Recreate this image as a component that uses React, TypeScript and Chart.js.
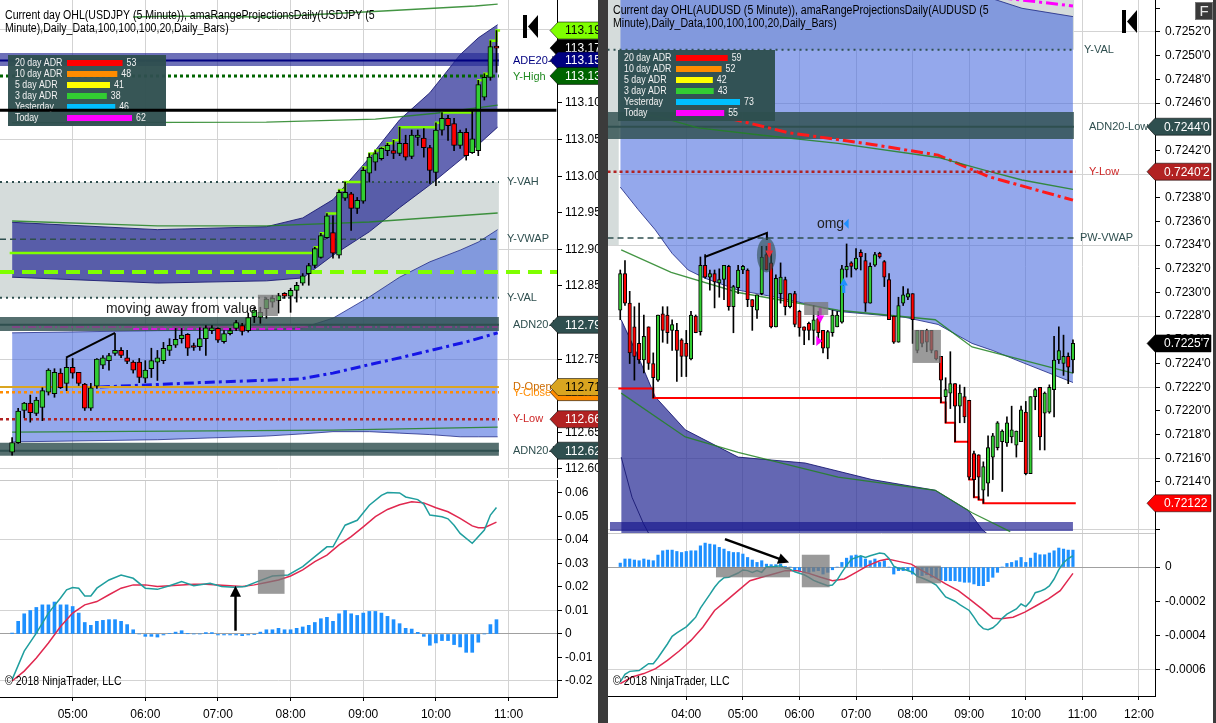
import React, { useEffect, useRef } from "react";
import { Chart, registerables } from "chart.js";

Chart.register(...registerables);

const FONT = "'Liberation Sans', Arial, Helvetica, sans-serif";

/* ======================= USDJPY (left panel) ======================= */
const jpyFirstBarMinute = 250; // 04:10, 5-minute bars
// [open, high, low, close]
const jpyCandles: number[][] = [
  [112.623, 112.643, 112.619, 112.636], [112.636, 112.683, 112.635, 112.679], [112.680, 112.691, 112.670, 112.690],
  [112.690, 112.701, 112.664, 112.677], [112.676, 112.698, 112.673, 112.694], [112.684, 112.711, 112.666, 112.707],
  [112.705, 112.737, 112.701, 112.735], [112.703, 112.737, 112.698, 112.732], [112.731, 112.737, 112.710, 112.711],
  [112.717, 112.751, 112.707, 112.739], [112.739, 112.751, 112.724, 112.731], [112.732, 112.732, 112.714, 112.717],
  [112.716, 112.717, 112.680, 112.683], [112.683, 112.717, 112.680, 112.711], [112.713, 112.751, 112.710, 112.750],
  [112.742, 112.755, 112.737, 112.752], [112.748, 112.758, 112.735, 112.755], [112.758, 112.785, 112.755, 112.762],
  [112.762, 112.766, 112.752, 112.755], [112.752, 112.762, 112.744, 112.747], [112.746, 112.748, 112.731, 112.735],
  [112.746, 112.751, 112.718, 112.725], [112.724, 112.748, 112.718, 112.735], [112.737, 112.765, 112.725, 112.748],
  [112.746, 112.762, 112.721, 112.752], [112.748, 112.773, 112.744, 112.765], [112.762, 112.778, 112.755, 112.769],
  [112.769, 112.792, 112.766, 112.777], [112.778, 112.792, 112.772, 112.783], [112.784, 112.785, 112.755, 112.765],
  [112.767, 112.772, 112.762, 112.766], [112.767, 112.793, 112.762, 112.778], [112.778, 112.796, 112.755, 112.793],
  [112.789, 112.796, 112.785, 112.793], [112.792, 112.793, 112.773, 112.776], [112.774, 112.789, 112.772, 112.785],
  [112.785, 112.792, 112.783, 112.789], [112.792, 112.803, 112.789, 112.800], [112.796, 112.799, 112.783, 112.788],
  [112.789, 112.813, 112.787, 112.807], [112.808, 112.821, 112.800, 112.817], [112.807, 112.821, 112.799, 112.814],
  [112.819, 112.834, 112.806, 112.832], [112.828, 112.837, 112.821, 112.833], [112.830, 112.840, 112.813, 112.837],
  [112.840, 112.841, 112.833, 112.836], [112.836, 112.847, 112.814, 112.844], [112.844, 112.855, 112.828, 112.851],
  [112.854, 112.867, 112.851, 112.864], [112.867, 112.881, 112.851, 112.878], [112.878, 112.903, 112.875, 112.901],
  [112.889, 112.922, 112.888, 112.919], [112.916, 112.949, 112.915, 112.946], [112.923, 112.946, 112.888, 112.895],
  [112.892, 112.981, 112.888, 112.978], [112.970, 112.992, 112.967, 112.978], [112.976, 112.978, 112.926, 112.956],
  [112.956, 112.971, 112.949, 112.967], [112.966, 113.012, 112.963, 113.008], [113.004, 113.031, 112.992, 113.026],
  [113.019, 113.035, 113.008, 113.031], [113.024, 113.039, 113.022, 113.038], [113.035, 113.045, 113.028, 113.042],
  [113.035, 113.049, 113.024, 113.031], [113.031, 113.067, 113.028, 113.045], [113.045, 113.056, 113.022, 113.026],
  [113.027, 113.063, 113.024, 113.056], [113.053, 113.063, 113.042, 113.056], [113.052, 113.065, 113.026, 113.039],
  [113.039, 113.042, 112.990, 113.008], [113.005, 113.073, 112.987, 113.063], [113.063, 113.087, 113.056, 113.079],
  [113.079, 113.083, 113.049, 113.069], [113.072, 113.079, 113.035, 113.042], [113.042, 113.063, 113.038, 113.060],
  [113.060, 113.065, 113.022, 113.028], [113.032, 113.090, 113.031, 113.051], [113.035, 113.131, 113.028, 113.125],
  [113.108, 113.140, 113.104, 113.135], [113.135, 113.185, 113.131, 113.177], [113.177, 113.199, 113.142, 113.175],
];
// [bar index, value]
const jpyDayHigh = [[-0.4, 112.895], [50, 112.903], [51, 112.922], [52, 112.949], [54, 112.981], [55, 112.992], [58, 113.012], [59, 113.031], [60, 113.035], [61, 113.039], [62, 113.045], [63, 113.049], [64, 113.067], [70, 113.073], [71, 113.087], [76, 113.090], [77, 113.131], [78, 113.140], [79, 113.185], [80, 113.199], [80.6, 113.199]];
const jpyBlueUpper = [[0, 112.786], [24, 112.789], [42, 112.790], [48, 112.793], [53, 112.806], [59, 112.835], [64, 112.862], [69, 112.883], [74, 112.899], [77, 112.910], [80.2, 112.927]];
const jpyBlueLower = [[0, 112.637], [24, 112.640], [42, 112.645], [48, 112.648], [53, 112.651], [59, 112.651], [64, 112.649], [69, 112.647], [74, 112.644], [77, 112.644], [80.2, 112.644]];
const jpyDarkUpper = [[0, 112.937], [24, 112.927], [42, 112.931], [48, 112.943], [53, 112.968], [59, 113.025], [64, 113.077], [69, 113.114], [74, 113.166], [77, 113.189], [80.2, 113.207]];
const jpyDarkLower = [[0, 112.862], [24, 112.854], [42, 112.857], [48, 112.861], [53, 112.892], [59, 112.924], [64, 112.957], [69, 112.988], [74, 113.022], [77, 113.043], [80.2, 113.067]];
const jpyVwapLine = [[14.5, 112.712], [31, 112.718], [47.6, 112.723], [53, 112.731], [58.7, 112.742], [64.1, 112.752], [69.6, 112.763], [75.2, 112.774], [80.2, 112.786]];
const jpyGreen1 = [[20, 113.2175], [25.8, 113.2188], [42.3, 113.2175], [61.3, 113.2257], [76.5, 113.2325], [80.2, 113.2352]];
const jpyGreen2 = [[0, 112.9388], [24, 112.932], [42, 112.932], [59, 112.9374], [80.2, 112.9497]];
const jpyGreen3 = [[0, 113.073], [42, 113.074], [60, 113.078], [70, 113.086], [80.2, 113.097]];
const jpyGreen4 = [[0, 112.6505], [53, 112.6532], [80.2, 112.6573]];
const jpyYVAH = 112.992, jpyYVAL = 112.834, jpyYVWAP = 112.914;
const jpyADE20High = 113.158, jpyADE20Band = [113.1505, 113.1683];
const jpyADN20High = 112.797, jpyADN20HighBand = [112.7885, 112.8077];
const jpyADN20Low = 112.625, jpyADN20LowBand = [112.618, 112.636];
const jpyYHigh = 113.137, jpyDOpen = 112.712, jpyYClose = 112.705, jpyYLow = 112.668;
const jpyLast = 113.175, jpyHighNow = 113.199;
const jpyBlackLine = 113.090, jpyLimeLine = 112.869, jpyPurpleLine = 112.794, jpyMagentaLine = 112.7912;
const jpyHistogram = [
  0.0004, 0.0054, 0.0086, 0.0100, 0.0113, 0.0124, 0.0124, 0.0136, 0.0124, 0.0124,
  0.0117, 0.0089, 0.0049, 0.0037, 0.0054, 0.0058, 0.0061, 0.0061, 0.0054, 0.0040,
  0.0018, 0, -0.0010, -0.0010, -0.0013, -0.0004, 0.0002, 0.0008, 0.0014, 0.0001,
  0, 0, 0.0006, 0.0006, -0.0004, -0.0004, -0.0004, -0.0004, -0.0007, -0.0004,
  -0.0001, 0.0008, 0.0018, 0.0018, 0.0024, 0.0018, 0.0018, 0.0024, 0.0030, 0.0037,
  0.0049, 0.0065, 0.0071, 0.0054, 0.0086, 0.0100, 0.0086, 0.0079, 0.0089, 0.0096,
  0.0096, 0.0089, 0.0075, 0.0061, 0.0044, 0.0024, 0.0021, 0.0007, -0.0010, -0.0048,
  -0.0038, -0.0028, -0.0028, -0.0045, -0.0055, -0.0078, -0.0078, -0.0035, 0, 0.0040,
  0.0061,
];
const jpyMacd = [[0, -0.0194], [2, -0.0073], [4, 0.0004], [6, 0.0089], [8, 0.0153], [9, 0.0188], [10, 0.0198], [11, 0.0195], [12, 0.0162], [13, 0.0162], [14, 0.0195], [16, 0.0230], [18, 0.0251], [20, 0.0237], [22, 0.0195], [24, 0.0190], [26, 0.0205], [28, 0.0223], [30, 0.0205], [32.7, 0.0216], [34.6, 0.0202], [36.6, 0.0199], [38.5, 0.0202], [40.5, 0.0223], [43, 0.0247], [45.6, 0.0251], [48, 0.0287], [50, 0.0329], [52, 0.0371], [53, 0.0371], [55, 0.0463], [57, 0.0484], [59, 0.0548], [61, 0.0590], [62, 0.0602], [64, 0.0600], [65, 0.0583], [67, 0.0572], [68, 0.0553], [69, 0.0506], [71, 0.0499], [72, 0.0490], [73, 0.0463], [74, 0.0428], [76, 0.0386], [78, 0.0442], [79, 0.0506], [80, 0.0538]];
const jpySignal = [[0, -0.0200], [2, -0.0158], [4, -0.0102], [6, -0.0038], [8, 0.0032], [10, 0.0089], [12, 0.0124], [14, 0.0138], [16, 0.0167], [18, 0.0195], [20, 0.0209], [22, 0.0209], [24, 0.0202], [26, 0.0205], [28, 0.0209], [30, 0.0212], [32, 0.0212], [34, 0.0209], [36, 0.0205], [38, 0.0202], [40, 0.0209], [42, 0.0219], [44, 0.0230], [46, 0.0247], [48, 0.0273], [50, 0.0308], [52, 0.0336], [54, 0.0379], [56, 0.0414], [58, 0.0456], [60, 0.0499], [62, 0.0530], [64, 0.0550], [66, 0.0563], [68, 0.0558], [70, 0.0537], [72, 0.0520], [74, 0.0492], [76, 0.0460], [77, 0.0452], [78, 0.0452], [80, 0.0476]];
const jpyAdrValues = [53, 48, 41, 38, 46, 62];

/* ======================= AUDUSD (right panel) ======================= */
const audFirstBarMinute = 170; // 02:50
const audCandles: number[][] = [
  [0.72285, 0.72319, 0.72277, 0.72316], [0.72316, 0.72327, 0.72289, 0.72291], [0.72291, 0.72301, 0.72240, 0.72249],
  [0.72271, 0.72288, 0.72226, 0.72246], [0.72257, 0.72291, 0.72240, 0.72243], [0.72243, 0.72281, 0.72232, 0.72263],
  [0.72271, 0.72271, 0.72235, 0.72240], [0.72240, 0.72249, 0.72211, 0.72228], [0.72226, 0.72281, 0.72225, 0.72281],
  [0.72282, 0.72288, 0.72258, 0.72268], [0.72281, 0.72288, 0.72257, 0.72266], [0.72268, 0.72277, 0.72251, 0.72273],
  [0.72268, 0.72274, 0.72225, 0.72251], [0.72260, 0.72261, 0.72229, 0.72246], [0.72257, 0.72268, 0.72229, 0.72246],
  [0.72244, 0.72284, 0.72243, 0.72281], [0.72280, 0.72281, 0.72266, 0.72266], [0.72267, 0.72330, 0.72264, 0.72323],
  [0.72323, 0.72332, 0.72312, 0.72313], [0.72313, 0.72319, 0.72302, 0.72316], [0.72316, 0.72319, 0.72287, 0.72309],
  [0.72308, 0.72320, 0.72296, 0.72311], [0.72311, 0.72323, 0.72294, 0.72323], [0.72322, 0.72323, 0.72285, 0.72288],
  [0.72288, 0.72306, 0.72266, 0.72305], [0.72304, 0.72323, 0.72299, 0.72319], [0.72319, 0.72323, 0.72316, 0.72322],
  [0.72319, 0.72320, 0.72288, 0.72294], [0.72294, 0.72294, 0.72268, 0.72288], [0.72285, 0.72298, 0.72278, 0.72298],
  [0.72299, 0.72339, 0.72298, 0.72330], [0.72332, 0.72339, 0.72319, 0.72319], [0.72325, 0.72333, 0.72270, 0.72271],
  [0.72271, 0.72315, 0.72271, 0.72312], [0.72299, 0.72325, 0.72291, 0.72313], [0.72311, 0.72313, 0.72281, 0.72288],
  [0.72288, 0.72299, 0.72287, 0.72299], [0.72299, 0.72301, 0.72271, 0.72273], [0.72284, 0.72285, 0.72263, 0.72270],
  [0.72271, 0.72271, 0.72256, 0.72268], [0.72274, 0.72275, 0.72260, 0.72268], [0.72268, 0.72289, 0.72256, 0.72277],
  [0.72278, 0.72284, 0.72257, 0.72266], [0.72268, 0.72268, 0.72249, 0.72253], [0.72253, 0.72268, 0.72244, 0.72267],
  [0.72266, 0.72285, 0.72263, 0.72281], [0.72271, 0.72284, 0.72271, 0.72281], [0.72275, 0.72323, 0.72274, 0.72320],
  [0.72319, 0.72341, 0.72313, 0.72322], [0.72325, 0.72326, 0.72313, 0.72322], [0.72320, 0.72337, 0.72319, 0.72329],
  [0.72334, 0.72336, 0.72319, 0.72330], [0.72327, 0.72333, 0.72284, 0.72291], [0.72291, 0.72325, 0.72291, 0.72322],
  [0.72323, 0.72334, 0.72322, 0.72332], [0.72333, 0.72334, 0.72329, 0.72330], [0.72326, 0.72327, 0.72305, 0.72313],
  [0.72311, 0.72316, 0.72277, 0.72277], [0.72280, 0.72280, 0.72257, 0.72258], [0.72258, 0.72296, 0.72258, 0.72289],
  [0.72291, 0.72305, 0.72289, 0.72298], [0.72296, 0.72303, 0.72294, 0.72299], [0.72299, 0.72299, 0.72257, 0.72277],
  [0.72251, 0.72268, 0.72249, 0.72268], [0.72268, 0.72268, 0.72254, 0.72257], [0.72268, 0.72269, 0.72250, 0.72258],
  [0.72268, 0.72268, 0.72249, 0.72251], [0.72251, 0.72251, 0.72243, 0.72244], [0.72246, 0.72246, 0.72207, 0.72226],
  [0.72212, 0.72228, 0.72190, 0.72218], [0.72215, 0.72250, 0.72202, 0.72223], [0.72223, 0.72223, 0.72174, 0.72204],
  [0.72204, 0.72222, 0.72190, 0.72215], [0.72212, 0.72220, 0.72190, 0.72195], [0.72209, 0.72209, 0.72142, 0.72144],
  [0.72164, 0.72166, 0.72127, 0.72142], [0.72163, 0.72163, 0.72125, 0.72144], [0.72133, 0.72157, 0.72122, 0.72153],
  [0.72139, 0.72179, 0.72128, 0.72169], [0.72161, 0.72181, 0.72142, 0.72179], [0.72169, 0.72191, 0.72167, 0.72190],
  [0.72174, 0.72184, 0.72132, 0.72183], [0.72173, 0.72195, 0.72170, 0.72190], [0.72178, 0.72204, 0.72173, 0.72184],
  [0.72171, 0.72183, 0.72161, 0.72183], [0.72174, 0.72204, 0.72174, 0.72201], [0.72199, 0.72208, 0.72146, 0.72147],
  [0.72147, 0.72212, 0.72147, 0.72212], [0.72212, 0.72219, 0.72201, 0.72218], [0.72220, 0.72220, 0.72167, 0.72178],
  [0.72198, 0.72216, 0.72167, 0.72215], [0.72199, 0.72222, 0.72198, 0.72220], [0.72218, 0.72263, 0.72195, 0.72243],
  [0.72243, 0.72271, 0.72240, 0.72251], [0.72240, 0.72264, 0.72230, 0.72246], [0.72246, 0.72249, 0.72223, 0.72237],
  [0.72243, 0.72260, 0.72232, 0.72257],
];
const audDayLow = [[-0.4, 0.72219], [7, 0.72211], [68, 0.72207], [69, 0.72190], [71, 0.72174], [74, 0.72142], [75, 0.72127], [76, 0.72125], [77, 0.72122], [96.6, 0.72122]];
const audBlueUpper = [[0, 0.7256], [3.8, 0.7256], [7.4, 0.7256], [11, 0.7256], [14.4, 0.7256], [18, 0.7256], [25, 0.7256], [35.6, 0.7256], [46.2, 0.7256], [60.4, 0.7256], [67.4, 0.7256], [74.6, 0.7256], [79, 0.72548], [85.2, 0.7254], [96, 0.72533]];
const audBlueLower = [[0, 0.72389], [3.8, 0.72370], [7.4, 0.72353], [11, 0.72333], [14.4, 0.72319], [18, 0.72312], [25, 0.72302], [35.6, 0.72294], [46.2, 0.72284], [60.4, 0.72279], [67.4, 0.72273], [74.6, 0.72257], [79, 0.72251], [85.2, 0.72241], [96, 0.72224]];
const audDarkUpper = [[0.2, 0.72277], [3.8, 0.72246], [7.4, 0.72212], [13.8, 0.72184], [25, 0.72161], [39.2, 0.72156], [53.4, 0.72142], [66.8, 0.72133], [73.8, 0.72116], [76.7, 0.72100], [80.6, 0.72087]];
const audDarkEdge2 = [[0.2, 0.72161], [2.5, 0.72127], [4.9, 0.72105], [6.5, 0.72093]];
const audGreen1 = [[6, 0.72450], [8.5, 0.72448], [16.5, 0.72439], [29.7, 0.72433], [46.2, 0.72426], [67.4, 0.72414], [78.4, 0.72402], [85.2, 0.72395], [96, 0.72387]];
const audGreen2 = [[0.2, 0.72336], [10.8, 0.72317], [25, 0.72300], [46.2, 0.72285], [66.8, 0.72277], [74.6, 0.72254], [96, 0.72232]];
const audGreen3 = [[0.2, 0.72215], [13.8, 0.72178], [25, 0.72165], [46.2, 0.72144], [66.8, 0.72133], [74.6, 0.72114], [82.7, 0.72098]];
const audRedDashDot = [[23.3, 0.72447], [35.6, 0.72435], [53.4, 0.72425], [67.4, 0.72416], [78, 0.72398], [96, 0.72378]];
const audMagentaDashDot = [[80.6, 0.72549], [96, 0.72542]];
const audYVAL = 0.72505, audADN20Low = 0.7244, audADN20Band = [0.724296, 0.724524];
const audYLow = 0.72402, audPWVWAP = 0.72346, audLast = 0.72257, audLowNow = 0.72122;
const audNavyBand = [0.720986, 0.721062];
const audHistogram = [
  23e-6, 47e-6, 47e-6, 41e-6, 37e-6, 47e-6, 41e-6, 37e-6, 70e-6, 95e-6,
  99e-6, 99e-6, 91e-6, 85e-6, 91e-6, 95e-6, 95e-6, 124e-6, 140e-6, 134e-6,
  130e-6, 115e-6, 105e-6, 91e-6, 85e-6, 85e-6, 76e-6, 56e-6, 41e-6, 27e-6,
  37e-6, 17e-6, 14e-6, 14e-6, 17e-6, 4e-6, 0, -17e-6, -25e-6, -31e-6,
  -31e-6, -25e-6, -21e-6, -41e-6, -31e-6, -16e-6, 0, 27e-6, 52e-6, 66e-6,
  70e-6, 62e-6, 47e-6, 37e-6, 47e-6, 27e-6, 37e-6, 0, -41e-6, -21e-6,
  -21e-6, -17e-6, -41e-6, -50e-6, -50e-6, -45e-6, -60e-6, -64e-6, -76e-6, -80e-6,
  -80e-6, -80e-6, -84e-6, -89e-6, -89e-6, -99e-6, -109e-6, -109e-6, -85e-6, -60e-6,
  -31e-6, 0, 21e-6, 27e-6, 37e-6, 56e-6, 27e-6, 52e-6, 82e-6, 72e-6,
  72e-6, 82e-6, 95e-6, 111e-6, 105e-6, 99e-6, 99e-6,
];
const audMacd = [[0, -672e-6], [1, -627e-6], [2, -610e-6], [4, -605e-6], [5, -585e-6], [6, -565e-6], [7, -565e-6], [8, -530e-6], [10, -450e-6], [11, -405e-6], [12, -385e-6], [14, -350e-6], [15, -322e-6], [16, -293e-6], [17, -240e-6], [19, -160e-6], [20, -118e-6], [21, -85e-6], [22, -62e-6], [23, -60e-6], [25, -35e-6], [26, -17e-6], [27, -21e-6], [28, -31e-6], [29, -21e-6], [30, -31e-6], [31, 2e-6], [32, 0], [34, 8e-6], [35, -6e-6], [36, -12e-6], [37, -28e-6], [39, -45e-6], [40, -60e-6], [41, -78e-6], [42, -89e-6], [44, -109e-6], [45, -105e-6], [46, -75e-6], [47, -31e-6], [48, 10e-6], [49, 45e-6], [51, 66e-6], [52, 56e-6], [53, 66e-6], [55, 82e-6], [56, 78e-6], [57, 50e-6], [58, 5e-6], [59, -8e-6], [60, -12e-6], [62, -30e-6], [63, -55e-6], [64, -64e-6], [65, -76e-6], [66, -89e-6], [67, -105e-6], [68, -140e-6], [69, -175e-6], [71, -200e-6], [72, -220e-6], [74, -254e-6], [75, -293e-6], [76, -335e-6], [77, -360e-6], [78, -367e-6], [79, -355e-6], [80, -332e-6], [81, -300e-6], [82, -275e-6], [84, -245e-6], [85, -216e-6], [86, -231e-6], [87, -200e-6], [88, -150e-6], [89, -142e-6], [90, -130e-6], [91, -110e-6], [92, -70e-6], [93, -15e-6], [94, 25e-6], [95, 50e-6], [96, 66e-6]];
const audSignal = [[0, -682e-6], [2.5, -643e-6], [5, -623e-6], [7.5, -594e-6], [10, -546e-6], [12.5, -491e-6], [15, -429e-6], [17.5, -352e-6], [20, -254e-6], [22.5, -196e-6], [25, -138e-6], [27.5, -80e-6], [30, -60e-6], [32.5, -41e-6], [35, -21e-6], [37.5, -21e-6], [40, -37e-6], [42.5, -60e-6], [45, -80e-6], [47.5, -70e-6], [50, -31e-6], [52.5, 8e-6], [55, 37e-6], [56.7, 47e-6], [59, 33e-6], [61.7, 17e-6], [64, -21e-6], [66.7, -60e-6], [69, -99e-6], [71.7, -138e-6], [74, -186e-6], [76.7, -245e-6], [79, -299e-6], [80.8, -303e-6], [83.3, -293e-6], [85.8, -264e-6], [88.3, -225e-6], [90.8, -186e-6], [93.3, -138e-6], [96, -37e-6]];
const audAdrValues = [59, 52, 42, 43, 73, 55];

const adrLabels = ["20 day ADR", "10 day ADR", "5 day ADR", "3 day ADR", "Yesterday", "Today"];
const adrColors = ["#ff0000", "#ff8c00", "#ffff00", "#32cd32", "#00bfff", "#ff00ff"];

/* ======================= helpers ======================= */
const jpyTime = (i: number) => jpyFirstBarMinute + 5 * i;
const audTime = (i: number) => audFirstBarMinute + 5 * i;
const P = (pairs: number[][], tf: any) => pairs.map((p) => ({ x: tf(p[0]), y: p[1] }));
const H = (v: number, i0: number, i1: number, tf: any) => [{ x: tf(i0), y: v }, { x: tf(i1), y: v }];
const CLEAR = "rgba(0,0,0,0)";
const GRID = "#d3d3d3";

function hhmm(v: number) {
  const h = Math.floor(v / 60);
  const m = Math.round(v - h * 60);
  return String(h).padStart(2, "0") + ":" + String(m).padStart(2, "0");
}
function isMult(d: number, step: number) {
  const q = d / step;
  return Math.abs(q - Math.round(q)) < 1e-4;
}
function line(data: any[], color: string, width: number, extra: any = {}) {
  return { type: "line", data, borderColor: color, borderWidth: width, pointRadius: 0, pointHoverRadius: 0, fill: false, tension: 0, order: 500, ...extra };
}
function rect(ds: any[], top: number, bottom: number, i0: number, i1: number, tf: any, color: string, order: number) {
  ds.push(line(H(top, i0, i1, tf), CLEAR, 0, { order, fill: { target: { value: bottom } }, backgroundColor: color }));
}
function band(ds: any[], upper: number[][], lower: number[][], tf: any, fillColor: string, edge: string, order: number) {
  const idx = ds.length;
  ds.push(line(P(upper, tf), edge, 1, { order }));
  ds.push(line(P(lower, tf), edge, 1, { order, fill: idx, backgroundColor: fillColor }));
}
function candleSets(candles: number[][], tf: any, bodyW: number) {
  return [
    { type: "bar", data: candles.map((c, i) => ({ x: tf(i), y: [c[2], c[1]] })), backgroundColor: "#000", borderWidth: 0, barThickness: 1, grouped: false, order: 20 },
    {
      type: "bar", data: candles.map((c, i) => ({ x: tf(i), y: [c[0], c[3]] })),
      backgroundColor: candles.map((c) => (c[3] >= c[0] ? "#32cd32" : "#ff0000")),
      borderColor: "#000", borderWidth: 1, borderSkipped: false, barThickness: bodyW, minBarLength: 2, grouped: false, order: 10,
    },
  ];
}

function drawFlag(ctx: any, tip: number, y: number, end: number, bg: string, fg: string, label: string, tx: number) {
  const hh = 8.5;
  ctx.beginPath();
  ctx.moveTo(tip, y);
  ctx.lineTo(tip + 8, y - hh);
  ctx.lineTo(end, y - hh);
  ctx.lineTo(end, y + hh);
  ctx.lineTo(tip + 8, y + hh);
  ctx.closePath();
  ctx.fillStyle = bg;
  ctx.fill();
  ctx.strokeStyle = "rgba(0,0,0,0.55)";
  ctx.lineWidth = 1;
  ctx.stroke();
  ctx.fillStyle = fg;
  ctx.font = `12px ${FONT}`;
  ctx.textAlign = "left";
  ctx.textBaseline = "middle";
  ctx.fillText(label, tx, y + 0.5);
}
// text with optional horizontal condensing (the reference UI font is narrower)
function text(ctx: any, s: string, x: number, y: number, color: string, size: number, align = "left", sx = 1) {
  ctx.save();
  ctx.font = `${size}px ${FONT}`;
  ctx.fillStyle = color;
  ctx.textAlign = align;
  ctx.textBaseline = "middle";
  ctx.translate(x, y);
  ctx.scale(sx, 1);
  ctx.fillText(s, 0, 0);
  ctx.restore();
}
function drawAdrBox(ctx: any, x: number, y: number, w: number, h: number, rowY: number, labelX: number, barX: number, barMax: number, values: number[]) {
  ctx.fillStyle = "rgba(47,79,79,0.96)";
  ctx.fillRect(x, y, w, h);
  const max = Math.max(...values);
  values.forEach((v, k) => {
    const yy = rowY + k * 11;
    text(ctx, adrLabels[k], labelX, yy, "#f2f2f2", 10, "left", 0.88);
    const bw = (v / max) * barMax;
    ctx.fillStyle = adrColors[k];
    ctx.fillRect(barX, yy - 3, bw, 6);
    text(ctx, String(v), barX + bw + 4, yy, "#f2f2f2", 10, "left", 0.88);
  });
}
function drawArrow(ctx: any, x1: number, y1: number, x2: number, y2: number, color: string, width: number, head: number) {
  const a = Math.atan2(y2 - y1, x2 - x1);
  const c = Math.cos(a), s = Math.sin(a);
  ctx.strokeStyle = color;
  ctx.fillStyle = color;
  ctx.lineWidth = width;
  ctx.beginPath();
  ctx.moveTo(x1, y1);
  ctx.lineTo(x2 - c * head * 0.8, y2 - s * head * 0.8);
  ctx.stroke();
  ctx.beginPath();
  ctx.moveTo(x2, y2);
  ctx.lineTo(x2 - head * c + head * 0.5 * s, y2 - head * s - head * 0.5 * c);
  ctx.lineTo(x2 - head * c - head * 0.5 * s, y2 - head * s + head * 0.5 * c);
  ctx.closePath();
  ctx.fill();
}
function drawBlockArrow(ctx: any, x: number, yTail: number, yTip: number, color: string) {
  const dir = yTip > yTail ? 1 : -1;
  const len = Math.abs(yTip - yTail);
  const headLen = len * 0.5;
  const baseY = yTip - dir * headLen;
  ctx.fillStyle = color;
  ctx.fillRect(x - 1.5, Math.min(yTail, baseY), 3, Math.abs(baseY - yTail));
  ctx.beginPath();
  ctx.moveTo(x - 4, baseY);
  ctx.lineTo(x + 4, baseY);
  ctx.lineTo(x, yTip);
  ctx.closePath();
  ctx.fill();
}
function drawEndIcon(ctx: any, x: number, y: number, h: number) {
  ctx.fillStyle = "#000";
  ctx.fillRect(x, y, 4, h);
  ctx.beginPath();
  ctx.moveTo(x + 5, y + h / 2);
  ctx.lineTo(x + 15, y);
  ctx.lineTo(x + 15, y + h);
  ctx.closePath();
  ctx.fill();
}
function zeroPad(s: any) {
  s.paddingLeft = 0;
  s.paddingRight = 0;
  s.paddingTop = 0;
  s.paddingBottom = 0;
}

function buildConfig(o: any) {
  return {
    type: "bar",
    data: { datasets: o.datasets },
    options: {
      animation: false,
      responsive: false,
      maintainAspectRatio: false,
      events: [],
      layout: { padding: o.padding || 0 },
      plugins: { legend: { display: false }, tooltip: { enabled: false }, title: { display: false } },
      scales: {
        x: {
          type: "linear", min: o.xMin, max: o.xMax, offset: false,
          ticks: {
            display: o.showX, stepSize: 60, includeBounds: false, autoSkip: false, maxRotation: 0, minRotation: 0,
            color: "#000", font: { family: FONT, size: 12 }, padding: o.xPad || 6,
            callback: (v: number) => (o.xHidden.includes(v) ? "" : hhmm(v)),
          },
          grid: {
            offset: false,
            color: (c: any) => (c.tick && o.xHidden.includes(c.tick.value) ? CLEAR : GRID),
            tickColor: (c: any) => (c.tick && o.xHidden.includes(c.tick.value) ? CLEAR : "#000"),
            drawTicks: o.showX, tickLength: 4,
          },
          border: { display: o.showX, color: "#000" },
          afterFit: (s: any) => { s.height = o.xHeight; zeroPad(s); },
        },
        y: {
          type: "linear", position: "right", min: o.yMin, max: o.yMax,
          ticks: { stepSize: o.yStep, includeBounds: false, autoSkip: false, color: "#000", font: { family: FONT, size: 12 }, padding: o.yPad, callback: o.yFmt },
          grid: { color: (c: any) => (c.tick ? o.gridY(c.tick.value) : CLEAR), tickColor: "#000", tickLength: 5, drawTicks: true },
          border: { display: true, color: "#000" },
          afterFit: (s: any) => { s.width = o.yWidth; zeroPad(s); },
        },
      },
    },
    plugins: [o.plugin],
  };
}

/* ======================= USDJPY price chart ======================= */
function jpyPriceConfig() {
  const t = jpyTime;
  const ds: any[] = [];
  rect(ds, jpyYVAH, jpyYVAL, -2, 80.4, t, "#d5dcdb", 1000);
  band(ds, jpyBlueUpper, jpyBlueLower, t, "rgba(70,105,222,0.58)", "rgba(25,35,130,0.75)", 990);
  band(ds, jpyDarkUpper, jpyDarkLower, t, "rgba(40,44,150,0.72)", "rgba(20,20,110,0.85)", 980);
  rect(ds, jpyADE20Band[1], jpyADE20Band[0], -2, 80.4, t, "rgba(40,44,150,0.68)", 970);
  rect(ds, jpyADN20HighBand[1], jpyADN20HighBand[0], -2, 80.4, t, "rgba(47,79,79,0.82)", 970);
  rect(ds, jpyADN20LowBand[1], jpyADN20LowBand[0], -2, 80.4, t, "rgba(47,79,79,0.82)", 970);
  ds.push(line(H(jpyADE20High, -2, 80.4, t), "#000080", 2, { order: 960 }));
  ds.push(line(H(jpyADN20High, -2, 80.4, t), "#2f4f4f", 2, { order: 960 }));
  ds.push(line(H(jpyADN20Low, -2, 80.4, t), "#2f4f4f", 2, { order: 960 }));
  ds.push(line(H(jpyYVAH, -2, 80.4, t), "#2f4f4f", 2, { borderDash: [2, 4], order: 900 }));
  ds.push(line(H(jpyYVAL, -2, 80.4, t), "#2f4f4f", 2, { borderDash: [2, 4], order: 900 }));
  ds.push(line(H(jpyYVWAP, -2, 80.4, t), "#2f4f4f", 1.5, { borderDash: [6, 4], order: 900 }));
  [jpyGreen1, jpyGreen2, jpyGreen3, jpyGreen4].forEach((g) => ds.push(line(P(g, t), "rgba(34,130,34,0.85)", 1.3, { order: 900 })));
  ds.push(line(P(jpyVwapLine, t), "#1515e6", 3, { borderDash: [10, 4, 3, 4], order: 900 }));
  ds.push(line(H(jpyPurpleLine, 0, 80.2, t), "rgba(140,60,140,0.8)", 2, { borderDash: [8, 3, 2, 3], order: 900 }));
  ds.push(line(H(jpyMagentaLine, 20, 47.6, t), "#ff00ff", 1.5, { borderDash: [6, 3], order: 900 }));
  ds.push(line(H(jpyYHigh, -2, 80.4, t), "#006400", 3, { borderDash: [3, 3], order: 900 }));
  ds.push(line(H(jpyYClose, -2, 80.4, t), "#ff8c00", 2.5, { borderDash: [3, 3], order: 900 }));
  ds.push(line(H(jpyDOpen, -2, 80.4, t), "#daa520", 2, { order: 890 }));
  ds.push(line(H(jpyYLow, -2, 80.4, t), "#b22222", 2.5, { borderDash: [3, 3], order: 900 }));
  ds.push(line(H(jpyLimeLine, -2, 90, t), "#7fff00", 4, { borderDash: [14, 8], order: 880 }));
  ds.push(line(P(jpyDayHigh, t), "#7fff00", 2.5, { stepped: true, order: 800 }));
  ds.push(...candleSets(jpyCandles, t, 5));

  const plugin = {
    id: "jpyPriceOverlay",
    afterDatasetsDraw(chart: any) {
      const ctx = chart.ctx;
      const a = chart.chartArea;
      const X = (i: number) => chart.scales.x.getPixelForValue(t(i));
      const Y = (v: number) => chart.scales.y.getPixelForValue(v);
      ctx.save();
      ctx.beginPath();
      ctx.rect(a.left, a.top, a.right - a.left, a.bottom - a.top);
      ctx.clip();
      drawAdrBox(ctx, 8, 55, 158, 71, 63, 15, 67, 65, jpyAdrValues);
      ctx.strokeStyle = "#000";
      ctx.lineWidth = 3;
      ctx.beginPath();
      ctx.moveTo(X(-2), Y(jpyBlackLine));
      ctx.lineTo(X(89.9), Y(jpyBlackLine));
      ctx.stroke();
      ctx.lineWidth = 2;
      ctx.beginPath();
      ctx.moveTo(X(8.9), Y(112.752));
      ctx.lineTo(X(17), Y(112.786));
      ctx.stroke();
      ctx.fillStyle = "rgba(120,120,120,0.75)";
      ctx.fillRect(X(40.6), Y(112.838), X(43.9) - X(40.6), Y(112.809) - Y(112.838));
      text(ctx, "moving away from value", X(15.5), Y(112.819), "#222", 14);
      text(ctx, "Current day OHL(USDJPY (5 Minute)), amaRangeProjectionsDaily(USDJPY (5", 5, 16, "#000", 12, "left", 0.88);
      text(ctx, "Minute),Daily_Data,100,100,100,20,Daily_Bars)", 5, 29, "#000", 12, "left", 0.88);
      drawEndIcon(ctx, 523, 15, 23);
      ctx.restore();
      const lx = a.right - 44, lx2 = a.right - 50;
      text(ctx, "ADE20-High", lx, Y(jpyADE20High), "#000080", 11);
      text(ctx, "Y-High", lx, Y(jpyYHigh) + 1, "#228b22", 11);
      text(ctx, "Y-VAH", lx2, Y(jpyYVAH), "#2f4f4f", 11);
      text(ctx, "Y-VWAP", lx2, Y(jpyYVWAP), "#2f4f4f", 11);
      text(ctx, "Y-VAL", lx2, Y(jpyYVAL), "#2f4f4f", 11);
      text(ctx, "ADN20-High", lx, Y(jpyADN20High), "#2f4f4f", 11);
      text(ctx, "D-Open", lx, Y(jpyDOpen), "#cc6a00", 11);
      text(ctx, "Y-Close", lx, Y(jpyYClose) + 1, "#ff8c00", 11);
      text(ctx, "Y-Low", lx, Y(jpyYLow), "#cd2626", 11);
      text(ctx, "ADN20-Low", lx, Y(jpyADN20Low), "#2f4f4f", 11);
    },
    afterDraw(chart: any) {
      const ctx = chart.ctx;
      const Y = (v: number) => chart.scales.y.getPixelForValue(v);
      const tip = chart.chartArea.right - 7;
      const end = chart.width + 2;
      const flags: any[] = [
        [jpyHighNow, "#7fff00", "#000", "113.199"],
        [jpyLast, "#000000", "#fff", "113.17'5"],
        [jpyADE20High, "#000080", "#fff", "113.15'8"],
        [jpyYHigh, "#006400", "#fff", "113.13'7"],
        [jpyADN20High, "#2f4f4f", "#fff", "112.79'7"],
        [jpyYClose, "#ff8c00", "#000", "112.70'5"],
        [jpyDOpen, "#daa520", "#000", "112.712"],
        [jpyYLow, "#b22222", "#fff", "112.66'8"],
        [jpyADN20Low, "#2f4f4f", "#fff", "112.62'5"],
      ];
      ctx.save();
      flags.forEach((f) => drawFlag(ctx, tip, Y(f[0]), end, f[1], f[2], f[3], tip + 15));
      ctx.restore();
    },
  };

  return buildConfig({
    datasets: ds, plugin, xMin: 240, xMax: 700, showX: false, xHeight: 0, xHidden: [240],
    yMin: 112.5877, yMax: 113.2407, yStep: 0.05, yPad: 3, yWidth: 41,
    yFmt: (v: number) => Number(v).toFixed(2) + "'0",
    gridY: (v: number) => (isMult(v - 112.6, 0.15) ? GRID : CLEAR),
  });
}

/* ======================= USDJPY MACD ======================= */
function jpyMacdConfig() {
  const t = jpyTime;
  const ds: any[] = [
    line(P(jpyMacd, t), "#1f9e9e", 1.5, { order: 40 }),
    line(P(jpySignal, t), "#e0284f", 1.5, { order: 45 }),
    { type: "bar", data: jpyHistogram.map((v, i) => ({ x: t(i), y: v })), backgroundColor: "#1e90ff", barThickness: 3, grouped: false, order: 60 },
  ];
  const plugin = {
    id: "jpyMacdOverlay",
    afterDatasetsDraw(chart: any) {
      const ctx = chart.ctx;
      const a = chart.chartArea;
      const X = (i: number) => chart.scales.x.getPixelForValue(t(i));
      const Y = (v: number) => chart.scales.y.getPixelForValue(v);
      ctx.save();
      ctx.strokeStyle = "#c8c8c8";
      ctx.lineWidth = 1;
      ctx.beginPath();
      ctx.moveTo(a.left, a.top + 0.5);
      ctx.lineTo(a.right, a.top + 0.5);
      ctx.stroke();
      ctx.fillStyle = "rgba(120,120,120,0.75)";
      ctx.fillRect(X(40.6), Y(0.0273), X(45) - X(40.6), Y(0.0171) - Y(0.0273));
      drawArrow(ctx, X(36.9), Y(0.0014), X(36.9), Y(0.0205), "#000", 2.5, 11);
      text(ctx, "\u00a9 2018 NinjaTrader, LLC", 5, a.bottom - 15, "#000", 12, "left", 0.88);
      ctx.restore();
    },
  };
  return buildConfig({
    datasets: ds, plugin, padding: { top: 2 }, xMin: 240, xMax: 700, showX: true, xHeight: 26, xPad: 6, xHidden: [240],
    yMin: -0.02681, yMax: 0.06553, yStep: 0.01, yPad: 3, yWidth: 41,
    yFmt: (v: number) => (Math.abs(v) < 1e-9 ? "0" : Number(v).toFixed(2)),
    gridY: (v: number) => (Math.abs(v) < 1e-9 ? "#a0a0a0" : isMult(v - 0.01, 0.03) ? GRID : CLEAR),
  });
}

/* ======================= AUDUSD price chart ======================= */
function audPriceConfig() {
  const t = audTime;
  const ds: any[] = [];
  rect(ds, 0.7256, audYVAL, -2.7, 96.2, t, "#d5dcdb", 1000);
  rect(ds, 0.7256, 0.7234, -2.7, -0.3, t, "#d5dcdb", 1000);
  band(ds, audBlueUpper, audBlueLower, t, "rgba(70,105,222,0.58)", "rgba(25,35,130,0.8)", 990);
  ds.push(line(P(audDarkUpper, t), "rgba(20,20,110,0.85)", 1, { order: 980, fill: "start", backgroundColor: "rgba(40,44,150,0.72)" }));
  ds.push(line(P(audDarkEdge2, t), "rgba(20,20,110,0.85)", 1, { order: 975 }));
  rect(ds, audNavyBand[1], audNavyBand[0], -2.2, 96, t, "rgba(20,20,140,0.65)", 970);
  rect(ds, audADN20Band[1], audADN20Band[0], -2.7, 96.2, t, "rgba(47,79,79,0.82)", 970);
  ds.push(line(H(audADN20Low, -2.7, 96.2, t), "#2f4f4f", 2, { order: 960 }));
  ds.push(line(H(audYVAL, -2.7, 96.2, t), "#2f4f4f", 2, { borderDash: [2, 4], order: 900 }));
  ds.push(line(H(audYLow, -2.7, 96.6, t), "#b22222", 2.5, { borderDash: [3, 3], order: 900 }));
  ds.push(line(H(audPWVWAP, -2.7, 96.6, t), "#2f4f4f", 1.5, { borderDash: [6, 4], order: 900 }));
  [audGreen1, audGreen2, audGreen3].forEach((g) => ds.push(line(P(g, t), "rgba(34,130,34,0.85)", 1.3, { order: 900 })));
  ds.push(line(P(audRedDashDot, t), "#ff1a1a", 3, { borderDash: [12, 4, 3, 4], order: 900 }));
  ds.push(line(P(audMagentaDashDot, t), "#ff00ff", 3, { borderDash: [12, 4, 3, 4], order: 900 }));
  ds.push(line(P(audDayLow, t), "#ff0000", 2, { stepped: true, order: 800 }));
  ds.push(...candleSets(audCandles, t, 3.5));

  const plugin = {
    id: "audPriceOverlay",
    afterDatasetsDraw(chart: any) {
      const ctx = chart.ctx;
      const a = chart.chartArea;
      const X = (i: number) => chart.scales.x.getPixelForValue(t(i));
      const Y = (v: number) => chart.scales.y.getPixelForValue(v);
      ctx.save();
      ctx.beginPath();
      ctx.rect(a.left, a.top, a.right - a.left, a.bottom - a.top);
      ctx.clip();
      ctx.strokeStyle = "#000";
      ctx.lineWidth = 2;
      ctx.beginPath();
      ctx.moveTo(X(17.9), Y(0.7233));
      ctx.lineTo(X(31.1), Y(0.723503));
      ctx.lineTo(X(31.1), Y(0.723444));
      ctx.stroke();
      ctx.fillStyle = "rgba(47,79,79,0.6)";
      ctx.beginPath();
      ctx.ellipse(X(31), Y(0.723317), 9.5, 17.5, 0, 0, Math.PI * 2);
      ctx.fill();
      drawBlockArrow(ctx, X(31.6), Y(0.723418), Y(0.723291), "#e8303a");
      drawBlockArrow(ctx, X(47.4), Y(0.722996), Y(0.723123), "#1e90ff");
      drawBlockArrow(ctx, X(42.4), Y(0.722869), Y(0.722743), "#ff00ff");
      ctx.fillStyle = "#ff00ff";
      ctx.beginPath();
      const my = Y(0.722591), mx = X(42);
      ctx.moveTo(mx - 2, my - 5);
      ctx.lineTo(mx + 4, my);
      ctx.lineTo(mx - 2, my + 5);
      ctx.closePath();
      ctx.fill();
      ctx.fillStyle = "rgba(120,120,120,0.75)";
      ctx.fillRect(X(39), Y(0.72292), X(44.1) - X(39), Y(0.72281) - Y(0.72292));
      ctx.fillRect(X(62), Y(0.722684), X(68) - X(62), Y(0.722405) - Y(0.722684));
      text(ctx, "omg", X(41.7), Y(0.72358), "#222", 14);
      ctx.fillStyle = "#1e90ff";
      ctx.beginPath();
      const oy = Y(0.72358), ox = X(48);
      ctx.moveTo(ox - 3, oy);
      ctx.lineTo(ox + 2, oy - 5);
      ctx.lineTo(ox + 2, oy + 5);
      ctx.closePath();
      ctx.fill();
      drawAdrBox(ctx, 10, 50, 157, 71, 58, 16, 68, 64, audAdrValues);
      text(ctx, "Current day OHL(AUDUSD (5 Minute)), amaRangeProjectionsDaily(AUDUSD (5", 5, 11, "#000", 12, "left", 0.88);
      text(ctx, "Minute),Daily_Data,100,100,100,20,Daily_Bars)", 5, 24, "#000", 12, "left", 0.88);
      drawEndIcon(ctx, 514, 10, 23);
      ctx.restore();
      text(ctx, "Y-VAL", 476, Y(audYVAL), "#2f4f4f", 11);
      text(ctx, "ADN20-Low", 481, Y(audADN20Low), "#2f4f4f", 11);
      text(ctx, "Y-Low", 481, Y(audYLow), "#cd2626", 11);
      text(ctx, "PW-VWAP", 472, Y(audPWVWAP), "#2f4f4f", 11);
    },
    afterDraw(chart: any) {
      const ctx = chart.ctx;
      const Y = (v: number) => chart.scales.y.getPixelForValue(v);
      const tip = chart.chartArea.right - 8;
      const end = chart.width + 2;
      const flags: any[] = [
        [audADN20Low, "#2f4f4f", "#fff", "0.7244'0"],
        [audYLow, "#b22222", "#fff", "0.7240'2"],
        [audLast, "#000000", "#fff", "0.7225'7"],
        [audLowNow, "#ff0000", "#fff", "0.72122"],
      ];
      ctx.save();
      flags.forEach((f) => drawFlag(ctx, tip, Y(f[0]), end - 4, f[1], f[2], f[3], tip + 17));
      ctx.fillStyle = "#3a3a3a";
      ctx.fillRect(587, 2, 18, 18);
      ctx.strokeStyle = "#777";
      ctx.strokeRect(587.5, 2.5, 17, 17);
      text(ctx, "F", 596, 11.5, "#e8e8e8", 15, "center");
      ctx.restore();
    },
  };

  return buildConfig({
    datasets: ds, plugin, xMin: 157, xMax: 737, showX: false, xHeight: 0, xHidden: [120, 180],
    yMin: 0.720969, yMax: 0.72547, yStep: 0.0002, yPad: 5, yWidth: 58,
    yFmt: (v: number) => (v > 0.72535 || v < 0.72105 ? "" : Number(v).toFixed(4) + "'0"),
    gridY: (v: number) => (isMult(v - 0.7216, 0.0006) ? GRID : CLEAR),
  });
}

/* ======================= AUDUSD MACD ======================= */
function audMacdConfig() {
  const t = audTime;
  const ds: any[] = [
    line(P(audMacd, t), "#1f9e9e", 1.5, { order: 40 }),
    line(P(audSignal, t), "#e0284f", 1.5, { order: 45 }),
    { type: "bar", data: audHistogram.map((v, i) => ({ x: t(i), y: v })), backgroundColor: "#1e90ff", barThickness: 2.5, grouped: false, order: 60 },
  ];
  const plugin = {
    id: "audMacdOverlay",
    afterDatasetsDraw(chart: any) {
      const ctx = chart.ctx;
      const a = chart.chartArea;
      const X = (i: number) => chart.scales.x.getPixelForValue(t(i));
      const Y = (v: number) => chart.scales.y.getPixelForValue(v);
      ctx.save();
      ctx.strokeStyle = "#c8c8c8";
      ctx.lineWidth = 1;
      ctx.beginPath();
      ctx.moveTo(a.left, a.top + 0.5);
      ctx.lineTo(a.right, a.top + 0.5);
      ctx.stroke();
      ctx.fillStyle = "rgba(120,120,120,0.75)";
      ctx.fillRect(X(20.3), Y(0), X(36) - X(20.3), Y(-0.0000602) - Y(0));
      ctx.fillRect(X(38.5), Y(0.0000719), X(44.4) - X(38.5), Y(-0.0001185) - Y(0.0000719));
      ctx.fillRect(X(62.7), Y(0.0000078), X(68) - X(62.7), Y(-0.0000952) - Y(0.0000078));
      drawArrow(ctx, X(22.2), Y(0.000163), X(35.8), Y(0.0000272), "#000", 2.5, 11);
      text(ctx, "\u00a9 2018 NinjaTrader, LLC", 5, a.bottom - 14, "#000", 12, "left", 0.88);
      ctx.restore();
    },
  };
  return buildConfig({
    datasets: ds, plugin, xMin: 157, xMax: 737, showX: true, xHeight: 27, xPad: 7, xHidden: [120, 180],
    yMin: -0.000754, yMax: 0.000199, yStep: 0.0002, yPad: 5, yWidth: 58,
    yFmt: (v: number) => (Math.abs(v) < 1e-12 ? "0" : Number(v).toFixed(4)),
    gridY: (v: number) => (Math.abs(v) < 1e-12 ? "#a0a0a0" : isMult(v + 0.0006, 0.0008) ? GRID : CLEAR),
  });
}

/* ======================= components ======================= */
function ChartCanvas({ left, top, width, height, make }: any) {
  const ref = useRef<HTMLCanvasElement>(null);
  useEffect(() => {
    const chart = new Chart(ref.current as any, make());
    return () => chart.destroy();
  }, []);
  return (
    <div style={{ position: "absolute", left, top, width, height }}>
      <canvas ref={ref} width={width} height={height} style={{ width, height, display: "block" }} />
    </div>
  );
}

export default function App() {
  return (
    <div style={{ position: "absolute", left: 0, top: 0, width: 1216, height: 723, background: "#3b3b3b", overflow: "hidden", fontFamily: FONT }}>
      <div style={{ position: "absolute", left: 0, top: 0, width: 598, height: 723, background: "#fff" }} />
      <div style={{ position: "absolute", left: 608, top: 0, width: 605, height: 723, background: "#fff" }} />
      <ChartCanvas left={0} top={0} width={598} height={478} make={jpyPriceConfig} />
      <ChartCanvas left={0} top={478} width={598} height={245} make={jpyMacdConfig} />
      <ChartCanvas left={608} top={0} width={605} height={533} make={audPriceConfig} />
      <ChartCanvas left={608} top={533} width={605} height={190} make={audMacdConfig} />
    </div>
  );
}
